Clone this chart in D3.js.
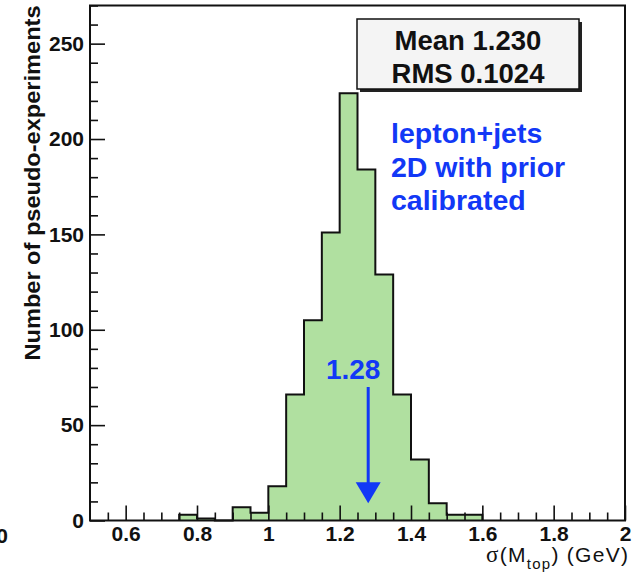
<!DOCTYPE html>
<html><head><meta charset="utf-8">
<script src="https://cdn.jsdelivr.net/npm/d3@7"></script>
<style>body{margin:0;background:#fff}svg{display:block}</style>
</head><body><svg id="c" width="632" height="580"></svg>
<script>
// Histogram of fitted sigma(M_top) over pseudo-experiments
const binLow = [0.75, 0.80, 0.85, 0.90, 0.95, 1.00, 1.05, 1.10, 1.15, 1.20, 1.25, 1.30, 1.35, 1.40, 1.45, 1.50, 1.55];
const counts = [3, 1, 0, 7, 4, 18, 66, 105, 151, 224, 184, 129, 66, 32, 9, 3, 3];
const binWidth = 0.05;
const xDomain = [0.5, 2.0];
const yDomain = [0, 270];
const xTicks = [0.6, 0.8, 1.0, 1.2, 1.4, 1.6, 1.8, 2.0];
const xTickLabels = ["0.6", "0.8", "1", "1.2", "1.4", "1.6", "1.8", "2"];
const yTicks = [0, 50, 100, 150, 200, 250];
const statsLines = ["Mean 1.230", "RMS 0.1024"];
const noteLines = ["lepton+jets", "2D with prior", "calibrated"];
const markerValue = 1.28;
const markerLabel = "1.28";
const markerTop = 70, markerHead = 20, markerTip = 9;

const svg = d3.select("#c");
const font = "'Liberation Sans', Arial, Helvetica, sans-serif";
const blue = "#1238f6";

const L = 90, R = 625, T = 5.5, B = 520.5;
const x = d3.scaleLinear().domain(xDomain).range([L, R]);
const y = d3.scaleLinear().domain(yDomain).range([B, T]);

// step outline of the histogram, also used as the filled area
const bins = binLow.map((lo, i) => ({lo, hi: lo + binWidth, n: counts[i]}));
const pts = [[bins[0].lo, 0]];
bins.forEach(d => { pts.push([d.lo, d.n]); pts.push([d.hi, d.n]); });
pts.push([bins[bins.length - 1].hi, 0]);
const stepPath = d3.line().x(p => x(p[0])).y(p => y(p[1]))(pts);
svg.append("path").attr("d", stepPath + "Z").attr("fill", "#b0e0a0").attr("stroke", "none");
svg.append("path").attr("d", stepPath)
  .attr("fill", "none").attr("stroke", "#111").attr("stroke-width", 2);

// axes with inward ticks
const minorX = d3.range(11, 40).map(k => k * 0.05).filter(v => Math.abs(v / 0.2 - Math.round(v / 0.2)) > 1e-6);
const minorY = d3.range(0, 28).map(k => k * 10).filter(v => v % 50 !== 0);

function styleAxis(g) {
  g.select(".domain").remove();
  g.selectAll("line").attr("stroke", "#111").attr("stroke-width", 1.6);
  g.selectAll("text").attr("font-family", font).attr("font-weight", "bold")
    .attr("font-size", 21).attr("fill", "#111");
}

svg.append("g").attr("transform", `translate(0,${B})`)
  .call(d3.axisBottom(x).tickValues(minorX).tickSize(-8).tickFormat(""))
  .call(styleAxis);
svg.append("g").attr("transform", `translate(0,${B})`)
  .call(d3.axisBottom(x).tickValues(xTicks).tickSize(-15).tickPadding(6)
    .tickFormat((d, i) => xTickLabels[i]))
  .call(styleAxis);
svg.append("g").attr("transform", `translate(${L},0)`)
  .call(d3.axisLeft(y).tickValues(minorY).tickSize(-8).tickFormat(""))
  .call(styleAxis);
svg.append("g").attr("transform", `translate(${L},0)`)
  .call(d3.axisLeft(y).tickValues(yTicks).tickSize(-15).tickPadding(6))
  .call(styleAxis);

// frame
svg.append("rect").attr("x", L).attr("y", T).attr("width", R - L).attr("height", B - T)
  .attr("fill", "none").attr("stroke", "#111").attr("stroke-width", 2);

// axis titles
svg.append("text")
  .attr("transform", `translate(40,${T}) rotate(-90)`)
  .attr("text-anchor", "end").attr("font-family", font).attr("font-weight", "bold")
  .attr("font-size", 22).attr("fill", "#111")
  .attr("textLength", 355).attr("lengthAdjust", "spacingAndGlyphs")
  .text("Number of pseudo-experiments");

const xt = svg.append("text").attr("x", 628).attr("y", 562).attr("text-anchor", "end")
  .attr("font-family", font).attr("font-size", 21).attr("fill", "#111")
  .attr("textLength", 142).attr("lengthAdjust", "spacing");
xt.append("tspan").attr("font-family", "'Liberation Serif', 'Times New Roman', serif").attr("font-size", 23).text("σ");
xt.append("tspan").text("(M");
xt.append("tspan").attr("font-size", 15).attr("dy", 7).text("top");
xt.append("tspan").attr("dy", -7).text(") (GeV)");

svg.append("text").attr("x", 2).attr("y", 543).attr("text-anchor", "middle")
  .attr("font-family", font).attr("font-weight", "bold").attr("font-size", 21)
  .attr("fill", "#111").text("0");

// stats box
const sb = {x: 357, y: 19, w: 222, h: 70};
svg.append("rect").attr("x", sb.x + 3).attr("y", sb.y + 3).attr("width", sb.w).attr("height", sb.h).attr("fill", "#222");
svg.append("rect").attr("x", sb.x).attr("y", sb.y).attr("width", sb.w).attr("height", sb.h)
  .attr("fill", "#f4f4f4").attr("stroke", "#111").attr("stroke-width", 1.5);
svg.append("g").selectAll("text").data(statsLines).join("text")
  .attr("x", sb.x + sb.w / 2).attr("y", (d, i) => 49.5 + i * 33.5)
  .attr("text-anchor", "middle").attr("font-family", font).attr("font-weight", "bold")
  .attr("font-size", 27.5).attr("fill", "#111").text(d => d);

// annotation text
svg.append("g").selectAll("text").data(noteLines).join("text")
  .attr("x", 391).attr("y", (d, i) => 143 + i * 33.5)
  .attr("font-family", font).attr("font-weight", "bold").attr("font-size", 28.5)
  .attr("fill", blue).text(d => d);

// arrow marking the value
const ax = x(markerValue);
svg.append("text").attr("x", ax - 15).attr("y", 378.5).attr("text-anchor", "middle")
  .attr("font-family", font).attr("font-weight", "bold").attr("font-size", 28)
  .attr("fill", blue).text(markerLabel);
svg.append("line").attr("x1", ax).attr("x2", ax).attr("y1", y(markerTop)).attr("y2", y(markerHead) + 1)
  .attr("stroke", blue).attr("stroke-width", 3);
svg.append("path")
  .attr("d", `M${ax - 12.5},${y(markerHead)} L${ax + 12.5},${y(markerHead)} L${ax},${y(markerTip)} Z`)
  .attr("fill", blue);
</script>
</body></html>
